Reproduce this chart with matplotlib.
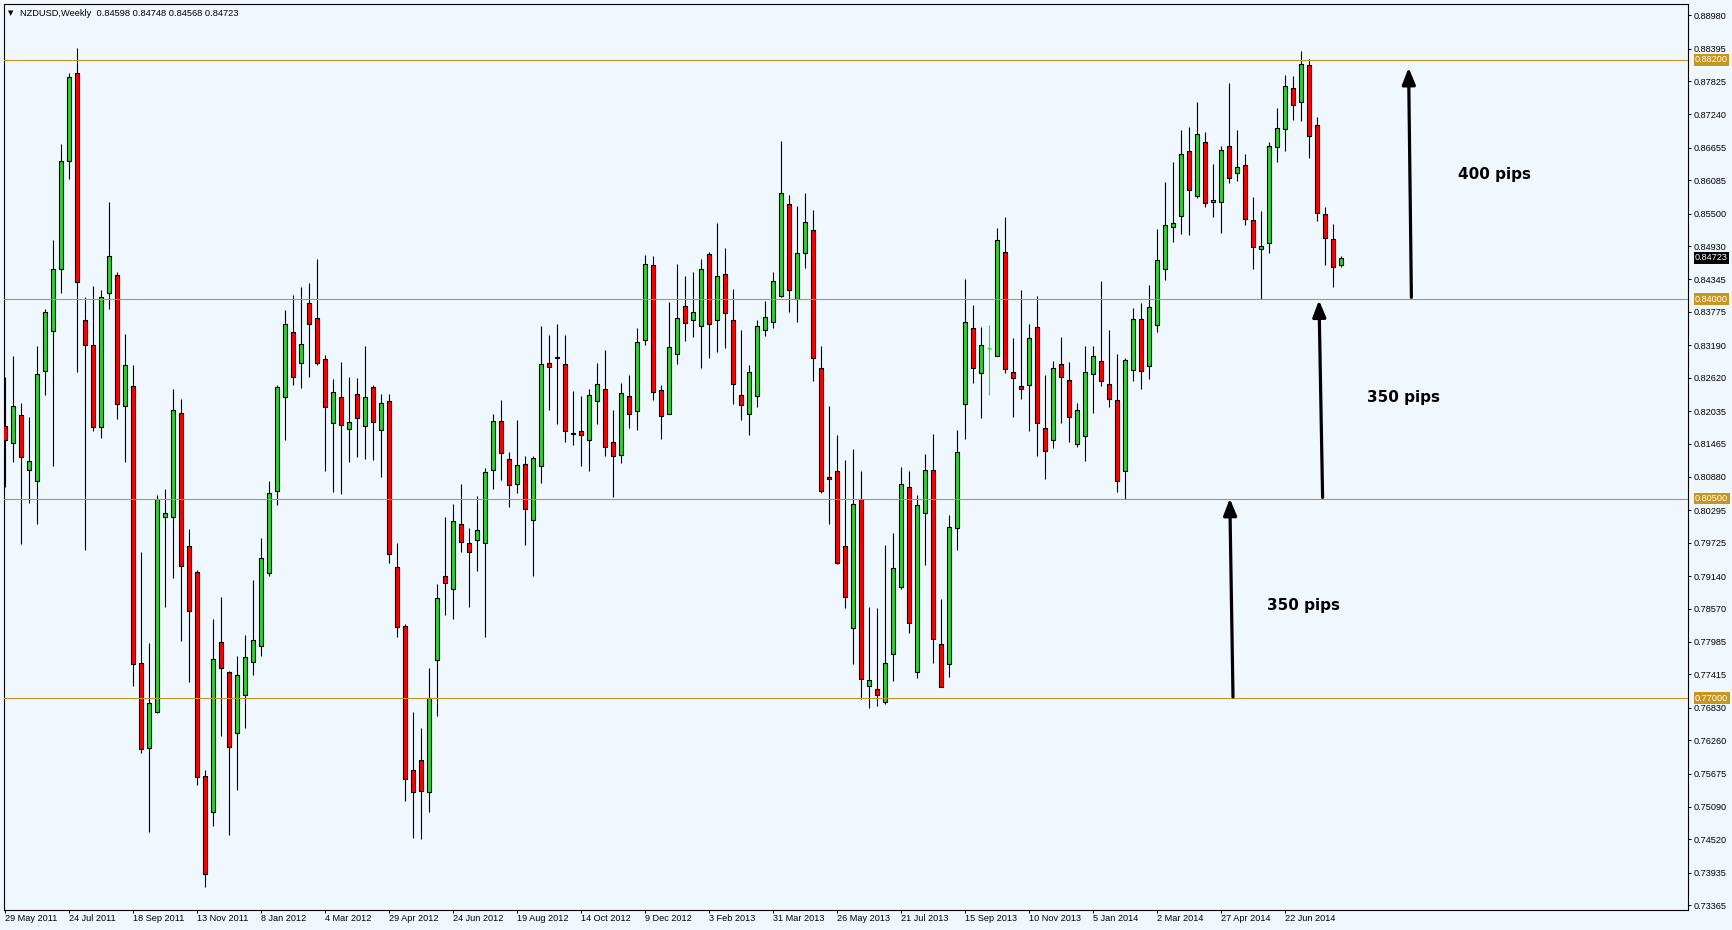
import matplotlib
matplotlib.use("Agg")
import matplotlib.pyplot as plt
from matplotlib.transforms import blended_transform_factory

# NZDUSD weekly candles (first bar = week of 29 May 2011)
opens = [0.8178, 0.8148, 0.8196, 0.8100, 0.8080, 0.8274, 0.8344, 0.8453, 0.8642, 0.8797,
         0.8363, 0.8320, 0.8176, 0.8411, 0.8443, 0.8212, 0.8248, 0.7762, 0.7612, 0.7676,
         0.8018, 0.8018, 0.8200, 0.7967, 0.7921, 0.7563, 0.7501, 0.7799, 0.7746, 0.7639,
         0.7706, 0.7764, 0.7792, 0.7920, 0.8063, 0.8228, 0.8343, 0.8288, 0.8394, 0.8367,
         0.8295, 0.8183, 0.8228, 0.8172, 0.8233, 0.8178, 0.8246, 0.8171, 0.8221, 0.7930,
         0.7826, 0.7573, 0.7592, 0.7536, 0.7766, 0.7914, 0.7891, 0.8005, 0.7972, 0.7977,
         0.7972, 0.8100, 0.8186, 0.8119, 0.8075, 0.8111, 0.8012, 0.8108, 0.8287, 0.8297,
         0.8286, 0.8164, 0.8169, 0.8152, 0.8221, 0.8243, 0.8150, 0.8127, 0.8230, 0.8204,
         0.8328, 0.8460, 0.8241, 0.8199, 0.8304, 0.8388, 0.8363, 0.8353, 0.8479, 0.8363,
         0.8444, 0.8363, 0.8231, 0.8199, 0.8230, 0.8346, 0.8360, 0.8406, 0.8566, 0.8401,
         0.8480, 0.8521, 0.8279, 0.8088, 0.8098, 0.7967, 0.7823, 0.8049, 0.7721, 0.7716,
         0.7693, 0.7778, 0.7894, 0.8071, 0.7746, 0.8025, 0.8100, 0.7795, 0.7760, 0.7999,
         0.8216, 0.8349, 0.8270, 0.8314, 0.8300, 0.8482, 0.8272, 0.8248, 0.8250, 0.8351,
         0.8173, 0.8152, 0.8286, 0.8258, 0.8146, 0.8159, 0.8269, 0.8292, 0.8251, 0.8223,
         0.8099, 0.8276, 0.8365, 0.8282, 0.8355, 0.8453, 0.8526, 0.8546, 0.8659, 0.8580,
         0.8676, 0.8571, 0.8571, 0.8668, 0.8622, 0.8635, 0.8538, 0.8488, 0.8498, 0.8666,
         0.8699, 0.8771, 0.8746, 0.8810, 0.8706, 0.8550, 0.8505, 0.84598]
highs = [0.8263, 0.8300, 0.8217, 0.8193, 0.8317, 0.8383, 0.8504, 0.8672, 0.8796, 0.8841,
         0.8403, 0.8423, 0.8416, 0.8571, 0.8448, 0.8339, 0.8285, 0.7956, 0.7796, 0.8056,
         0.8066, 0.8242, 0.8225, 0.7996, 0.7925, 0.7573, 0.7839, 0.7878, 0.7748, 0.7774,
         0.7811, 0.7908, 0.7981, 0.8081, 0.8250, 0.8380, 0.8408, 0.8422, 0.8429, 0.8471,
         0.8302, 0.8259, 0.8289, 0.8264, 0.8262, 0.8318, 0.8250, 0.8233, 0.8234, 0.7972,
         0.7830, 0.7676, 0.7648, 0.7752, 0.7901, 0.8017, 0.8041, 0.8075, 0.7998, 0.8054,
         0.8103, 0.8199, 0.8223, 0.8131, 0.8187, 0.8125, 0.8125, 0.8353, 0.8337, 0.8357,
         0.8337, 0.8239, 0.8230, 0.8243, 0.8288, 0.8310, 0.8205, 0.8252, 0.8267, 0.8349,
         0.8478, 0.8476, 0.8250, 0.8395, 0.8462, 0.8440, 0.8448, 0.8471, 0.8483, 0.8534,
         0.8490, 0.8418, 0.8346, 0.8285, 0.8364, 0.8397, 0.8448, 0.8677, 0.8583, 0.8563,
         0.8586, 0.8556, 0.8318, 0.8212, 0.8161, 0.8118, 0.8137, 0.8099, 0.7860, 0.7858,
         0.7969, 0.7989, 0.8106, 0.8099, 0.8056, 0.8128, 0.8164, 0.7873, 0.8022, 0.8170,
         0.8435, 0.8390, 0.8351, 0.8354, 0.8525, 0.8544, 0.8332, 0.8416, 0.8357, 0.8406,
         0.8266, 0.8292, 0.8334, 0.8289, 0.8217, 0.8318, 0.8318, 0.8432, 0.8346, 0.8304,
         0.8297, 0.8384, 0.8394, 0.8425, 0.8523, 0.8605, 0.8640, 0.8696, 0.8702, 0.8745,
         0.8694, 0.8637, 0.8669, 0.8779, 0.8696, 0.8654, 0.8579, 0.8554, 0.8675, 0.8736,
         0.8794, 0.8791, 0.8836, 0.8822, 0.8719, 0.8561, 0.8532, 0.84748]
lows = [0.8070, 0.8115, 0.7971, 0.8043, 0.8006, 0.8232, 0.8108, 0.8411, 0.8610, 0.8272,
        0.7960, 0.8169, 0.8157, 0.8383, 0.8189, 0.8115, 0.7721, 0.7604, 0.7465, 0.7673,
        0.7859, 0.7911, 0.7801, 0.7729, 0.7547, 0.7368, 0.7476, 0.7634, 0.7459, 0.7539,
        0.7648, 0.7740, 0.7774, 0.7914, 0.8039, 0.8153, 0.8249, 0.8244, 0.8263, 0.8284,
        0.8098, 0.8061, 0.8058, 0.8115, 0.8123, 0.8119, 0.8118, 0.8088, 0.7937, 0.7808,
        0.7520, 0.7455, 0.7452, 0.7500, 0.7668, 0.7845, 0.7838, 0.7956, 0.7859, 0.7923,
        0.7807, 0.8066, 0.8082, 0.8036, 0.8059, 0.7968, 0.7914, 0.8078, 0.8206, 0.8181,
        0.8150, 0.8144, 0.8107, 0.8099, 0.8180, 0.8124, 0.8053, 0.8112, 0.8174, 0.8170,
        0.8319, 0.8223, 0.8154, 0.8199, 0.8286, 0.8326, 0.8333, 0.8279, 0.8296, 0.8308,
        0.8314, 0.8216, 0.8188, 0.8161, 0.8210, 0.8335, 0.8350, 0.8404, 0.8377, 0.8359,
        0.8455, 0.8257, 0.8060, 0.8005, 0.7935, 0.7858, 0.7760, 0.7699, 0.7683, 0.7686,
        0.7690, 0.7730, 0.7892, 0.7815, 0.7735, 0.7933, 0.7762, 0.7720, 0.7737, 0.7959,
        0.8154, 0.8252, 0.8192, 0.8231, 0.8300, 0.8271, 0.8193, 0.8224, 0.8168, 0.8125,
        0.8084, 0.8139, 0.8182, 0.8149, 0.8140, 0.8116, 0.8200, 0.8247, 0.8210, 0.8062,
        0.8050, 0.8256, 0.8242, 0.8259, 0.8342, 0.8434, 0.8501, 0.8514, 0.8513, 0.8577,
        0.8562, 0.8544, 0.8516, 0.8603, 0.8607, 0.8530, 0.8452, 0.8401, 0.8480, 0.8641,
        0.8660, 0.8715, 0.8712, 0.8648, 0.8537, 0.8460, 0.8422, 0.84568]
closes = [0.8153, 0.8212, 0.8123, 0.8116, 0.8269, 0.8377, 0.8453, 0.8642, 0.8789, 0.8430,
          0.8320, 0.8176, 0.8404, 0.8475, 0.8216, 0.8284, 0.7760, 0.7610, 0.7691, 0.8050,
          0.8025, 0.8206, 0.7931, 0.7853, 0.7562, 0.7391, 0.7768, 0.7752, 0.7615, 0.7740,
          0.7772, 0.7802, 0.7946, 0.8060, 0.8246, 0.8357, 0.8263, 0.8321, 0.8356, 0.8288,
          0.8211, 0.8237, 0.8179, 0.8185, 0.8192, 0.8228, 0.8185, 0.8218, 0.7953, 0.7825,
          0.7558, 0.7535, 0.7537, 0.7700, 0.7876, 0.7902, 0.8011, 0.7974, 0.7957, 0.7995,
          0.8097, 0.8186, 0.8130, 0.8074, 0.8109, 0.8032, 0.8121, 0.8286, 0.8280, 0.8298,
          0.8168, 0.8165, 0.8162, 0.8232, 0.8251, 0.8141, 0.8125, 0.8236, 0.8199, 0.8325,
          0.8461, 0.8237, 0.8195, 0.8316, 0.8367, 0.8358, 0.8377, 0.8453, 0.8356, 0.8440,
          0.8375, 0.8251, 0.8214, 0.8272, 0.8353, 0.8369, 0.8432, 0.8586, 0.8416, 0.8481,
          0.8535, 0.8296, 0.8063, 0.8084, 0.7937, 0.7878, 0.8040, 0.7734, 0.7732, 0.7706,
          0.7762, 0.7929, 0.8076, 0.7832, 0.8038, 0.8100, 0.7804, 0.7720, 0.8000, 0.8131,
          0.8360, 0.8279, 0.8319, 0.8314, 0.8504, 0.8277, 0.8261, 0.8243, 0.8332, 0.8182,
          0.8134, 0.8279, 0.8263, 0.8194, 0.8206, 0.8272, 0.8300, 0.8257, 0.8225, 0.8080,
          0.8293, 0.8365, 0.8274, 0.8386, 0.8468, 0.8530, 0.8533, 0.8654, 0.8591, 0.8689,
          0.8568, 0.8573, 0.8662, 0.8612, 0.8631, 0.8541, 0.8491, 0.8494, 0.8668, 0.8701,
          0.8774, 0.8741, 0.8812, 0.8686, 0.8551, 0.8508, 0.8457, 0.84723]
lime_bars = [123]  # this doji is drawn in lime on the original

date_labels = ["29 May 2011", "24 Jul 2011", "18 Sep 2011", "13 Nov 2011", "8 Jan 2012",
               "4 Mar 2012", "29 Apr 2012", "24 Jun 2012", "19 Aug 2012", "14 Oct 2012",
               "9 Dec 2012", "3 Feb 2013", "31 Mar 2013", "26 May 2013", "21 Jul 2013",
               "15 Sep 2013", "10 Nov 2013", "5 Jan 2014", "2 Mar 2014", "27 Apr 2014",
               "22 Jun 2014"]
date_every = 8

price_ticks = [0.88980, 0.88395, 0.87825, 0.87240, 0.86655, 0.86085, 0.85500, 0.84930,
               0.84345, 0.83775, 0.83190, 0.82620, 0.82035, 0.81465, 0.80880, 0.80295,
               0.79725, 0.79140, 0.78570, 0.77985, 0.77415, 0.76830, 0.76260, 0.75675,
               0.75090, 0.74520, 0.73935, 0.73365]
levels = [0.882, 0.840, 0.805, 0.770]

# arrows: (bar tail, price tail, bar head, price head)
arrows = [(153.5, 0.7702, 153.1, 0.8050),
          (164.7, 0.8052, 164.25, 0.8398),
          (175.8, 0.8403, 175.45, 0.8806)]
notes = [("400 pips", 181.6, 0.8618), ("350 pips", 170.2, 0.8228), ("350 pips", 157.7, 0.7863)]

BG = "#F0F8FF"
GOLD = "#C8961E"
BULL = "#32CD32"
BEAR = "#FF0000"
SMALL = dict(family=["Liberation Sans", "DejaVu Sans"], size=6.6)

W, H = 1733, 930
fig = plt.figure(figsize=(W / 100, H / 100), dpi=100, facecolor=BG)
ax = fig.add_axes([4 / W, 20 / H, 1684 / W, 906 / H], facecolor=BG)

n = len(opens)
xs = list(range(n))
wick_col = ["#00FF00" if i in lime_bars else "black" for i in xs]
body_col = []
edge_col = []
for i in xs:
    if i in lime_bars:
        body_col.append("#00FF00")
        edge_col.append("#00FF00")
    else:
        body_col.append(BULL if closes[i] >= opens[i] else BEAR)
        edge_col.append("black")
bottoms = [min(o, c) for o, c in zip(opens, closes)]
heights = [max(abs(c - o), 0.00008) for o, c in zip(opens, closes)]

ax.vlines(xs, lows, highs, colors=wick_col, lw=0.8, zorder=2)
ax.bar(xs, heights, bottom=bottoms, width=0.56, color=body_col, edgecolor=edge_col,
       linewidth=0.8, zorder=3)

for lv in levels:
    ax.axhline(lv, color=GOLD, lw=0.8, zorder=4)

for x0, y0, x1, y1 in arrows:
    ax.annotate("", xy=(x1, y1), xytext=(x0, y0),
                arrowprops=dict(arrowstyle="-|>,head_width=0.4,head_length=1.0",
                                color="black", lw=2.3, shrinkA=0, shrinkB=0,
                                mutation_scale=10), zorder=5)
for txt, bx, py in notes:
    ax.text(bx, py, txt, fontsize=11, fontweight="bold", family="DejaVu Sans",
            ha="left", va="center", zorder=5)

ax.set_xlim(-0.125, 210.375)
ax.set_ylim(0.73282, 0.89177)

# price scale on the right
ax.yaxis.tick_right()
ax.set_yticks(price_ticks)
ax.set_yticklabels([f"{p:.5f}" for p in price_ticks], **SMALL)
ax.tick_params(axis="y", length=2.2, width=0.7, pad=1.5, colors="black")

# date scale
ax.set_xticks(list(range(0, date_every * len(date_labels), date_every)))
ax.set_xticklabels(date_labels, **SMALL, ha="left")
ax.tick_params(axis="x", length=2.2, width=0.7, pad=1.0)

for s in ax.spines.values():
    s.set_color("black")
    s.set_linewidth(0.8)

# highlighted price boxes
tr = blended_transform_factory(ax.transAxes, ax.transData)
for lv in levels:
    ax.text(1.0042, lv, f"{lv:.5f}", transform=tr, color="white", ha="left", va="center",
            bbox=dict(boxstyle="square,pad=0.15", fc=GOLD, ec="none"), clip_on=False, **SMALL)
ax.text(1.0042, closes[-1], f"{closes[-1]:.5f}", transform=tr, color="white", ha="left",
        va="center", bbox=dict(boxstyle="square,pad=0.15", fc="black", ec="none"),
        clip_on=False, **SMALL)

# header
fig.text(8 / W, 1 - 13.5 / H, "\u25BC", fontsize=5, family="DejaVu Sans", va="center")
fig.text(20 / W, 1 - 13.5 / H,
         f"NZDUSD,Weekly  {opens[-1]:.5f} {highs[-1]:.5f} {lows[-1]:.5f} {closes[-1]:.5f}",
         va="center", family=["Liberation Sans", "DejaVu Sans"], size=6.7)

fig.savefig("out.png", dpi=100, facecolor=BG)
